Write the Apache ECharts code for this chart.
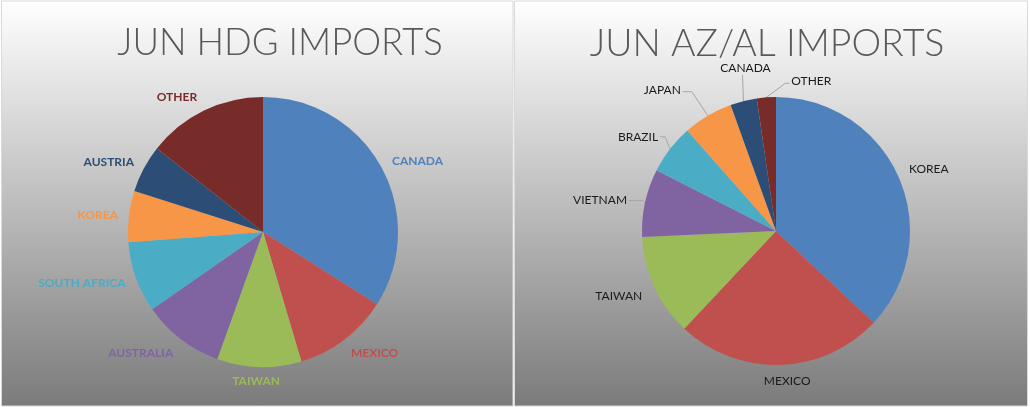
<!DOCTYPE html>
<html>
<head>
<meta charset="utf-8">
<script src="https://cdn.jsdelivr.net/npm/echarts@6/dist/echarts.min.js"></script>
<style>
html,body{margin:0;padding:0;background:#fff;}
#c{width:1030px;height:407px;}
</style>
</head>
<body>
<div id="c"></div>
<script>
var hdgCategories = ['CANADA', 'MEXICO', 'TAIWAN', 'AUSTRALIA', 'SOUTH AFRICA', 'KOREA', 'AUSTRIA', 'OTHER'];
var hdgValues = [34.0, 11.4, 10.1, 9.8, 8.5, 6.1, 5.7, 14.4];

var azCategories = ['KOREA', 'MEXICO', 'TAIWAN', 'VIETNAM', 'BRAZIL', 'JAPAN', 'CANADA', 'OTHER'];
var azValues = [37.0, 25.0, 12.3, 8.2, 6.0, 6.0, 3.2, 2.3];

var titles = ['JUN HDG IMPORTS', 'JUN AZ/AL IMPORTS'];
var palette = ['#4F81BD', '#C0504D', '#9BBB59', '#8064A2', '#4BACC6', '#F79646', '#2C4D75', '#772C2A'];

// small nudges of the automatically placed left labels: [dx, dy]
var hdgLabelNudge = {
  'CANADA': [-4, -1], 'MEXICO': [-5, 5], 'TAIWAN': [0, 0], 'AUSTRALIA': [4, 5],
  'SOUTH AFRICA': [5, 2], 'KOREA': [5, 0], 'AUSTRIA': [5, -2], 'OTHER': [3, -4]
};

// label placement relative to the slice edge point: [elbowDx, elbowDy, horizontal, align, showLine, labelDy]
var azLabelPlace = {
  'KOREA':   [8, -9, 0, 'left', false, 0],
  'MEXICO':  [4, 16, 0, 'center', false, 0],
  'TAIWAN':  [-10, 9, 0, 'right', false, 0],
  'VIETNAM': [-2, -2, -14, 'right', true, 0],
  'BRAZIL':  [-5, -12, -5, 'right', true, 0],
  'JAPAN':   [-16, -24, -9, 'right', true, -2],
  'CANADA':  [-1, -26, 0, 'center', true, 0],
  'OTHER':   [19, -14, 4, 'left', true, -2]
};

var chart = echarts.init(document.getElementById('c'), null, {renderer: 'canvas'});

function bg(x, w) {
  return {
    type: 'rect', z: -10, silent: true,
    shape: {x: x, y: 1, width: w, height: 405},
    style: {
      fill: new echarts.graphic.LinearGradient(0, 0, 0, 1, [
        {offset: 0, color: '#ffffff'}, {offset: 1, color: '#7b7b7b'}
      ]),
      stroke: '#d9d9d9', lineWidth: 1
    }
  };
}

var leftData = hdgCategories.map(function (n, i) {
  return {
    name: n, value: hdgValues[i],
    itemStyle: {color: palette[i]},
    label: {color: palette[i]}
  };
});
var rightData = azCategories.map(function (n, i) {
  return {name: n, value: azValues[i], itemStyle: {color: palette[i]}};
});

function leftLayout(p) {
  var pts = p.labelLinePoints;
  var name = hdgCategories[p.dataIndex];
  if (name === 'TAIWAN' && pts) {
    var e = pts[0];
    return {x: e[0] - 3, y: e[1] + 14, align: 'center', verticalAlign: 'middle'};
  }
  var n = hdgLabelNudge[name] || [0, 0];
  return {dx: n[0], dy: n[1]};
}

function rightLayout(p) {
  var pts = p.labelLinePoints;
  if (!pts) return {};
  var e = pts[0];
  var cfg = azLabelPlace[azCategories[p.dataIndex]];
  var el = [e[0] + cfg[0], e[1] + cfg[1]];
  var end = [el[0] + cfg[2], el[1]];
  var gap = cfg[3] === 'left' ? 2 : (cfg[3] === 'right' ? -2 : 0);
  var ly = end[1] + cfg[5];
  var lx = end[0] + gap;
  if (cfg[3] === 'center') {
    lx = end[0] + 3;
    if (cfg[1] < 0) ly = end[1] - 7;
  }
  var line = cfg[4] ? [e, el, end] : [e, e, e];
  return {x: lx, y: ly, align: cfg[3], verticalAlign: 'middle', labelLinePoints: line};
}

chart.setOption({
  animation: false,
  graphic: [bg(1.5, 511.5), bg(514.5, 513)],
  title: [
    {text: titles[0], left: 275, top: 20, textAlign: 'center',
     textStyle: {fontFamily: 'Lato', fontWeight: 300, fontSize: 36.5, color: '#595959'}},
    {text: titles[1], left: 762, top: 19.5, textAlign: 'center',
     textStyle: {fontFamily: 'Lato', fontWeight: 300, fontSize: 37.5, color: '#595959'}}
  ],
  series: [
    {
      type: 'pie', center: [263, 232], radius: 135, startAngle: 90, clockwise: true,
      avoidLabelOverlap: false,
      data: leftData,
      label: {show: true, position: 'outside', formatter: '{b}',
              fontFamily: 'Lato', fontWeight: 'bold', fontSize: 12},
      labelLine: {show: true, length: 11, length2: 0, lineStyle: {opacity: 0}},
      labelLayout: leftLayout,
      itemStyle: {borderWidth: 0},
      emphasis: {disabled: true}
    },
    {
      type: 'pie', center: [776, 231], radius: 134, startAngle: 90, clockwise: true,
      avoidLabelOverlap: false,
      data: rightData,
      label: {show: true, position: 'outside', formatter: '{b}',
              fontFamily: 'Lato', fontSize: 12, color: '#1a1a1a'},
      labelLine: {show: true, length: 10, length2: 10, lineStyle: {color: '#a6a6a6', width: 1}},
      labelLayout: rightLayout,
      itemStyle: {borderWidth: 0},
      emphasis: {disabled: true}
    }
  ]
});
</script>
</body>
</html>
